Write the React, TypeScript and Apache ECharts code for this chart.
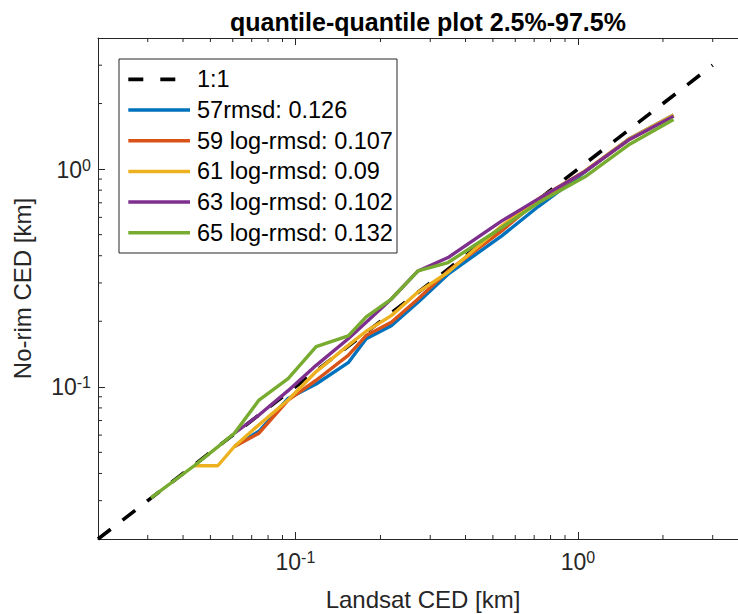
import { useEffect, useRef } from 'react';
import * as echarts from 'echarts';

// Landsat CED quantiles (x) shared by all series, km
const landsatQuantiles = [0.0308, 0.0438, 0.0531, 0.0608, 0.0743, 0.0942, 0.1184, 0.1538, 0.178, 0.2185, 0.2716, 0.347, 0.536, 0.724, 1.059, 1.509, 2.18];
// No-rim CED quantiles (y) per threshold, km (null = not plotted)
const noRim57 = [null, null, null, 0.0532, 0.0625, 0.0884, 0.103, 0.1291, 0.1663, 0.191, 0.2444, 0.3292, 0.4923, 0.673, 0.972, 1.37, 1.77];
const noRim59 = [null, null, null, 0.0532, 0.0612, 0.0869, 0.1072, 0.1394, 0.172, 0.198, 0.253, 0.3406, 0.5189, 0.72, 0.975, 1.36, 1.76];
const noRim61 = [null, 0.0434, 0.0434, 0.0532, 0.067, 0.087, 0.1175, 0.155, 0.18, 0.2123, 0.2723, 0.336, 0.547, 0.73, 0.98, 1.37, 1.77];
const noRim63 = [null, null, null, 0.0612, 0.0742, 0.096, 0.1255, 0.1663, 0.198, 0.253, 0.3406, 0.3923, 0.5765, 0.73, 0.975, 1.36, 1.75];
const noRim65 = [0.0309, 0.0434, 0.053, 0.0612, 0.0869, 0.1091, 0.1528, 0.1715, 0.2094, 0.253, 0.3406, 0.3722, 0.5378, 0.7, 0.922, 1.29, 1.69];

const seriesNames = ['57rmsd: 0.126', '59 log-rmsd: 0.107', '61 log-rmsd: 0.09', '63 log-rmsd: 0.102', '65 log-rmsd: 0.132'];
const seriesValues = [noRim57, noRim59, noRim61, noRim63, noRim65];
const seriesColors = ['#0072BD', '#D95319', '#EDB120', '#7E2F8E', '#77AC30'];

const oneToOneName = '1:1';
const oneToOne = [0.02, 3];

const X_MIN = 0.02;
const X_MAX = 4;
const Y_MIN = 0.02;
const Y_MAX = 4;
const minorTicks = [0.03, 0.04, 0.05, 0.06, 0.07, 0.08, 0.09, 0.2, 0.3, 0.4, 0.5, 0.6, 0.7, 0.8, 0.9, 2, 3];

const FONT = 'Liberation Sans, Arial, Helvetica, sans-serif';
const AX = '#262626';

function powLabel(v: number): string {
  const l = Math.log10(v);
  const e = Math.round(l);
  if (Math.abs(l - e) > 1e-6) return '';
  return `{b|10}{s|${e}}`;
}

const richLabel = {
  b: { fontSize: 23, lineHeight: 24, verticalAlign: 'bottom', fontFamily: FONT, color: AX },
  s: { fontSize: 16, lineHeight: 16, verticalAlign: 'top', padding: [0, 0, 18, 0], fontFamily: FONT, color: AX },
};

export default function App() {
  const ref = useRef<HTMLDivElement>(null);
  useEffect(() => {
    if (!ref.current) return;
    const chart = echarts.init(ref.current, undefined, { renderer: 'svg' });

    const lineSeries = seriesValues.map((ys, i) => ({
      type: 'line',
      name: seriesNames[i],
      xAxisIndex: 0,
      yAxisIndex: 0,
      data: landsatQuantiles.map((x, j) => [x, ys[j]]).filter((d) => d[1] != null),
      symbol: 'none',
      showSymbol: false,
      lineStyle: { color: seriesColors[i], width: 3.4 },
      itemStyle: { color: seriesColors[i] },
      z: 3 + i,
    }));

    const legendLeft = 119;
    const legendTop = 59;
    const rowY0 = 79.3;
    const rowStep = 30.7;
    const legendFont = 23.5;
    const legendItems: any[] = [
      {
        type: 'rect',
        shape: { x: legendLeft, y: legendTop, width: 278, height: 194 },
        style: { fill: '#fff', stroke: AX, lineWidth: 1 },
        z: 100,
      },
      {
        type: 'line',
        shape: { x1: 128.3, y1: rowY0, x2: 190, y2: rowY0 },
        style: { stroke: '#000', lineWidth: 3.8, lineDash: [15, 17] },
        z: 101,
      },
      {
        type: 'text',
        x: 197,
        y: rowY0,
        style: { text: oneToOneName, fontSize: legendFont, fontFamily: FONT, fill: '#000', textVerticalAlign: 'middle', verticalAlign: 'middle' },
        z: 101,
      },
    ];
    seriesNames.forEach((name, i) => {
      const y = rowY0 + rowStep * (i + 1);
      legendItems.push({
        type: 'line',
        shape: { x1: 128.3, y1: y, x2: 190, y2: y },
        style: { stroke: seriesColors[i], lineWidth: 3.5 },
        z: 101,
      });
      legendItems.push({
        type: 'text',
        x: 197,
        y,
        style: { text: name, fontSize: legendFont, fontFamily: FONT, fill: '#000', textVerticalAlign: 'middle', verticalAlign: 'middle' },
        z: 101,
      });
    });

    const option: any = {
      animation: false,
      backgroundColor: '#fff',
      title: {
        text: 'quantile-quantile plot 2.5%-97.5%',
        left: 423,
        top: 4,
        textAlign: 'center',
        textStyle: { fontSize: 25, fontWeight: 'bold', fontFamily: FONT, color: '#000' },
      },
      grid: { left: 98, top: 38, width: 650, height: 501, outerBoundsMode: 'none', containLabel: false },
      xAxis: [
        {
          type: 'log',
          logBase: 10,
          min: X_MIN,
          max: X_MAX,
          position: 'bottom',
          name: 'Landsat CED [km]',
          nameLocation: 'middle',
          nameGap: 44,
          nameTextStyle: { fontSize: 24, fontFamily: FONT, color: AX },
          axisLine: { show: true, lineStyle: { color: AX, width: 1 } },
          axisTick: { show: true, inside: true, length: 7, lineStyle: { color: AX, width: 1 } },
          axisLabel: { show: true, margin: 10, fontSize: 23, formatter: powLabel, rich: richLabel },
          splitLine: { show: false },
        },
        {
          type: 'log',
          logBase: 10,
          min: X_MIN,
          max: X_MAX,
          position: 'top',
          axisLine: { show: true, lineStyle: { color: AX, width: 1 } },
          axisTick: { show: true, inside: true, length: 7, lineStyle: { color: AX, width: 1 } },
          axisLabel: { show: false },
          splitLine: { show: false },
        },
      ],
      yAxis: [
        {
          type: 'log',
          logBase: 10,
          min: Y_MIN,
          max: Y_MAX,
          position: 'left',
          name: 'No-rim CED [km]',
          nameLocation: 'middle',
          nameGap: 64,
          nameTextStyle: { fontSize: 24, fontFamily: FONT, color: AX },
          axisLine: { show: true, lineStyle: { color: AX, width: 1 } },
          axisTick: { show: true, inside: true, length: 7, lineStyle: { color: AX, width: 1 } },
          axisLabel: { show: true, margin: 7, fontSize: 23, formatter: powLabel, rich: richLabel },
          splitLine: { show: false },
        },
      ],
      graphic: legendItems,
      series: [
        {
          type: 'line',
          name: oneToOneName,
          data: oneToOne.map((v) => [v, v]),
          symbol: 'none',
          showSymbol: false,
          lineStyle: { color: '#000', width: 3.6, type: [16, 15] },
          z: 2,
        },
        ...lineSeries,
        {
          type: 'custom',
          name: 'xMinorTicks',
          silent: true,
          clip: false,
          data: minorTicks.map((v) => [v, Y_MIN]),
          encode: { x: 0, y: 1 },
          renderItem: (params: any, api: any) => {
            const v = api.value(0);
            const b = api.coord([v, Y_MIN]);
            const t = api.coord([v, Y_MAX]);
            return {
              type: 'group',
              children: [
                { type: 'line', shape: { x1: b[0], y1: b[1], x2: b[0], y2: b[1] - 4 }, style: { stroke: AX, lineWidth: 1 } },
                { type: 'line', shape: { x1: t[0], y1: t[1], x2: t[0], y2: t[1] + 4 }, style: { stroke: AX, lineWidth: 1 } },
              ],
            };
          },
          z: 1,
        },
        {
          type: 'custom',
          name: 'yMinorTicks',
          silent: true,
          clip: false,
          data: minorTicks.map((v) => [X_MIN, v]),
          encode: { x: 0, y: 1 },
          renderItem: (params: any, api: any) => {
            const v = api.value(1);
            const p = api.coord([X_MIN, v]);
            return {
              type: 'line',
              shape: { x1: p[0], y1: p[1], x2: p[0] + 4, y2: p[1] },
              style: { stroke: AX, lineWidth: 1 },
            };
          },
          z: 1,
        },
      ],
    };
    chart.setOption(option);
    return () => chart.dispose();
  }, []);
  return <div ref={ref} style={{ position: 'absolute', left: 0, top: 0, width: 738, height: 614 }} />;
}
